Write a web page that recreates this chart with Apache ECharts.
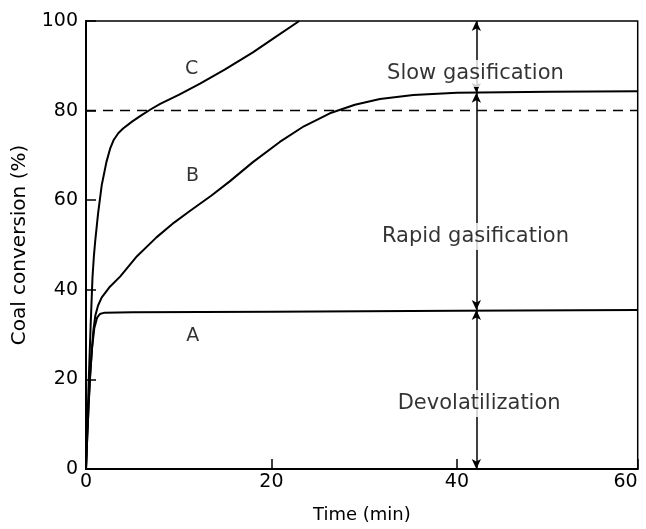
<!DOCTYPE html>
<html><head><meta charset="utf-8">
<script src="https://cdn.jsdelivr.net/npm/echarts@6/dist/echarts.min.js"></script>
<style>html,body{margin:0;padding:0;background:#fff}#c{width:646px;height:529px}</style>
</head><body><div id="c"></div>
<script>
// Curve A (time min, conversion %)
const timeA = [0, 0.15, 0.3, 0.45, 0.65, 0.9, 1.2, 1.5, 2, 5, 20, 40, 59.5];
const convA = [0, 8, 15, 21, 27, 31.5, 33.8, 34.6, 34.9, 35, 35.1, 35.3, 35.5];
// Curve B
const timeB = [0, 0.15, 0.3, 0.45, 0.65, 0.8, 1.0, 1.3, 1.7, 2.5, 3.7, 5.5, 7.6, 9.5, 11.2, 13.5, 15.5, 18, 20.9, 23.5, 26.3, 29, 31.7, 35.3, 40, 50, 59.5];
const convB = [0, 8, 15, 21, 27, 31, 34.2, 36.5, 38.3, 40.5, 43, 47.5, 51.7, 55, 57.6, 61, 64.2, 68.5, 73, 76.5, 79.4, 81.3, 82.6, 83.5, 84, 84.2, 84.3];
// Curve C
const timeC = [0, 0.15, 0.3, 0.5, 0.7, 0.85, 1.0, 1.3, 1.7, 2.2, 2.6, 3.0, 3.5, 4, 5, 6, 7, 8, 10, 12.3, 15, 18, 20.5, 23];
const convC = [0, 10, 20, 32, 42.8, 47.5, 51, 57, 63.4, 68.5, 71.5, 73.5, 75, 76, 77.6, 79, 80.3, 81.5, 83.5, 86, 89.2, 93, 96.5, 100];
// Reference level (dashed)
const refLevel = 80;
const xMax = 59.5;
const xTickLabels = ['0', '20', '40', '60'];
// Vertical region marker
const markerTime = 42.1;
const regionBounds = [100, 84, 35.5, 0];
const regionNames = ['Slow gasification', 'Rapid gasification', 'Devolatilization'];
const regionLabelPos = [[42.0, 88.3], [42.0, 51.9], [42.4, 14.6]];
const curveNames = ['A', 'B', 'C'];
const curveLabelPos = [[11.5, 29.6], [11.5, 65.3], [11.4, 89.2]];

const FONT = 'DejaVu Sans';
const zip = (xs, ys) => xs.map((x, i) => [x, ys[i]]);
const lineSeries = (xs, ys) => ({
  type: 'line', data: zip(xs, ys), showSymbol: false, smooth: false,
  lineStyle: { color: '#000', width: 2, join: 'round' }, silent: true, z: 3
});

const markLines = [];
for (let i = 0; i < regionBounds.length - 1; i++) {
  markLines.push([{ coord: [markerTime, regionBounds[i]] }, { coord: [markerTime, regionBounds[i + 1]] }]);
}

const textData = regionNames.map((n, i) => ({ name: n, value: regionLabelPos[i] }))
  .concat(curveNames.map((n, i) => ({ name: n, value: curveLabelPos[i], label: { backgroundColor: 'transparent', fontSize: 19 } })));

const chart = echarts.init(document.getElementById('c'), null, { renderer: 'canvas' });
chart.setOption({
  animation: false,
  backgroundColor: '#fff',
  grid: { left: 86, right: 8.3, top: 21, bottom: 55, show: true, borderColor: '#000', borderWidth: 1.5, containLabel: false },
  xAxis: {
    type: 'value', min: 0, max: xMax, interval: 20,
    name: 'Time (min)', nameLocation: 'middle', nameGap: 37,
    nameTextStyle: { fontFamily: FONT, fontSize: 18, color: '#000' },
    axisLine: { lineStyle: { color: '#000', width: 2 } },
    axisTick: { inside: true, length: 10, lineStyle: { color: '#000', width: 1.5 } },
    splitLine: { show: false },
    axisLabel: {
      fontFamily: FONT, fontSize: 19, color: '#000', margin: 4, alignMaxLabel: 'right',
      formatter: v => xTickLabels[Math.round(v / 20)]
    }
  },
  yAxis: {
    type: 'value', min: 0, max: 100, interval: 20,
    name: 'Coal conversion (%)', nameLocation: 'middle', nameGap: 56,
    nameTextStyle: { fontFamily: FONT, fontSize: 20, color: '#000' },
    axisLine: { lineStyle: { color: '#000', width: 2 } },
    axisTick: { inside: true, length: 10, lineStyle: { color: '#000', width: 1.5 } },
    splitLine: { show: false },
    axisLabel: { fontFamily: FONT, fontSize: 19, color: '#000', margin: 8 }
  },
  series: [
    lineSeries(timeA, convA),
    lineSeries(timeB, convB),
    lineSeries(timeC, convC),
    {
      type: 'line', data: [[0, refLevel], [xMax, refLevel]], showSymbol: false, silent: true,
      lineStyle: { color: '#000', width: 1.5, type: [10, 7] }, z: 2
    },
    {
      type: 'line', data: [], silent: true,
      markLine: {
        silent: true, symbol: ['arrow', 'arrow'], symbolSize: [7, 10], label: { show: false },
        lineStyle: { color: '#000', width: 1.5, type: 'solid' },
        data: markLines
      }
    },
    {
      type: 'scatter', data: textData, symbolSize: 0, silent: true, z: 10,
      label: {
        show: true, position: 'inside', formatter: p => p.name,
        fontFamily: FONT, fontSize: 21, color: '#000', textBorderWidth: 0,
        backgroundColor: '#fff', padding: [3, 4]
      }
    }
  ]
});
</script></body></html>
